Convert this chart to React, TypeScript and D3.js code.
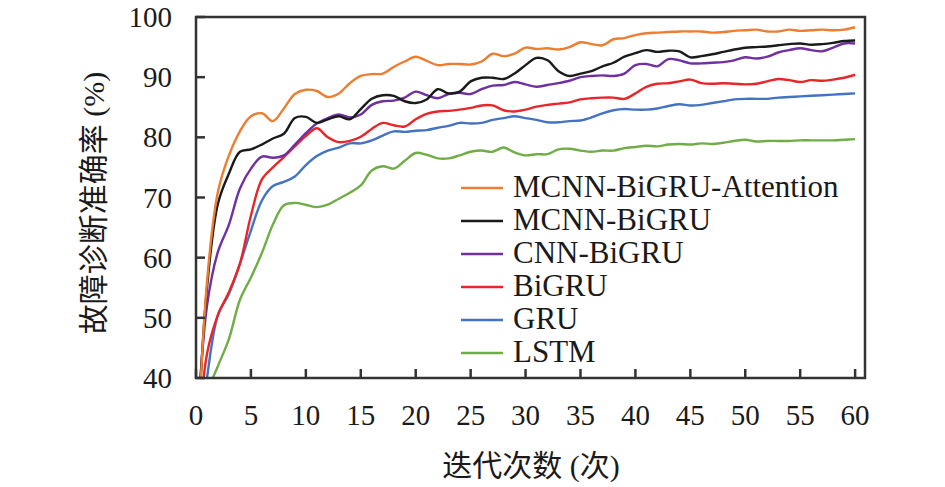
import { useEffect, useRef } from "react"
import * as d3 from "d3"

// epochs 0..60
const epochs = d3.range(0, 61)

const mcnnBigruAtt = [
  22, 56, 71, 77, 81, 83.5, 84, 82.7, 84.8, 87.2, 87.9, 87.7, 86.7, 87.3, 89, 90.2, 90.5, 90.6, 91.7, 92.6,
  93.4, 92.7, 92, 92.2, 92.2, 92.1, 92.6, 93.9, 93.5, 93.9, 94.9, 94.7, 94.8, 94.6, 95, 95.8, 95.5, 95.3, 96.3, 96.5,
  97, 97.3, 97.4, 97.5, 97.6, 97.6, 97.6, 97.4, 97.5, 97.7, 97.8, 97.9, 97.6, 97.6, 97.9, 97.7, 97.8, 97.9, 97.8, 97.9,
  98.3,
]
const mcnnBigru = [
  25, 55, 69, 74, 77.6, 78, 78.8, 79.8, 80.6, 83.2, 83.4, 82.4, 83, 83.5, 83, 84.7, 86.4, 87, 86.9, 86,
  85.7, 86.3, 88, 87.3, 87.6, 89.3, 89.9, 89.9, 89.7, 90.6, 92, 93.2, 92.8, 91, 90.2, 90.6, 91, 91.8, 92.4, 93.4,
  94, 94.5, 94.2, 94.4, 94.3, 93.3, 93.5, 93.8, 94.2, 94.6, 94.9, 95, 95.1, 95.3, 95.5, 95.6, 95.4, 95.5, 95.7, 96,
  96.1,
]
const cnnBigru = [
  28, 52, 61, 65.5, 71.5, 74.8, 76.8, 76.6, 77, 78.8, 80.7, 82.3, 83.2, 83.8, 83.3, 83.8, 85.4, 86, 86.1, 86.6,
  87.6, 87, 86.5, 87.2, 87.4, 87.2, 88, 88.6, 88.7, 89.2, 88.8, 88.4, 88.7, 89, 89.4, 90, 90.2, 90.3, 90.2, 90.6,
  92, 92.2, 91.8, 93, 92.8, 92.3, 92.3, 92.4, 92.5, 92.8, 93.3, 93.1, 93.4, 94.1, 94.5, 94.8, 94.5, 94.3, 94.9, 95.6,
  95.6,
]
const bigru = [
  25, 44, 50.5, 54.3, 59, 67, 73, 75, 76.7, 78.5, 80.2, 81.5, 80, 79.2, 79.4, 80.1, 81.4, 82.4, 82, 81.8,
  83, 83.9, 84.3, 84.4, 84.6, 84.9, 85.3, 85.3, 84.5, 84.3, 84.6, 85.1, 85.4, 85.6, 85.8, 86.3, 86.5, 86.6, 86.6, 86.4,
  87.3, 88.4, 88.9, 89, 89.3, 89.6, 89, 88.9, 89, 88.9, 88.8, 88.9, 89.3, 89.7, 89.5, 89.2, 89.5, 89.4, 89.6, 89.9,
  90.4,
]
const gru = [
  24, 40, 50.5, 54, 59, 64.5, 69.5, 71.9, 72.6, 73.5, 75.4, 76.9, 77.8, 78.3, 79, 79, 79.5, 80.3, 81, 80.9,
  81.1, 81.2, 81.6, 81.9, 82.4, 82.3, 82.4, 82.9, 83.2, 83.5, 83.2, 82.9, 82.5, 82.5, 82.7, 82.8, 83.3, 84, 84.5, 84.7,
  84.6, 84.6, 84.8, 85.2, 85.5, 85.3, 85.4, 85.7, 86, 86.3, 86.4, 86.4, 86.4, 86.6, 86.7, 86.8, 86.9, 87, 87.1, 87.2,
  87.3,
]
const lstm = [
  30, 37.5, 42, 46.5, 53, 56.7, 60.8, 65.5, 68.7, 69.1, 68.8, 68.4, 68.8, 69.8, 70.8, 72, 74.5, 75.2, 74.8, 76.1,
  77.4, 77.1, 76.5, 76.5, 77, 77.6, 77.8, 77.6, 78.3, 77.5, 77, 77.2, 77.2, 78, 78.1, 77.8, 77.6, 77.8, 77.8, 78.2,
  78.4, 78.6, 78.5, 78.8, 78.9, 78.8, 79, 78.9, 79.1, 79.4, 79.6, 79.3, 79.4, 79.4, 79.4, 79.5, 79.5, 79.5, 79.5, 79.6,
  79.7,
]

const seriesNames = ["MCNN-BiGRU-Attention", "MCNN-BiGRU", "CNN-BiGRU", "BiGRU", "GRU", "LSTM"]
const seriesValues = [mcnnBigruAtt, mcnnBigru, cnnBigru, bigru, gru, lstm]
const seriesColors = ["#ED7D31", "#1a1a1a", "#7030A0", "#E8262A", "#4472C4", "#70AD47"]

const xTicks = d3.range(0, 61, 5)
const yTicks = [40, 50, 60, 70, 80, 90, 100]

const serif = "'Liberation Serif', 'Times New Roman', serif"
const cjk = "'Liberation Serif', 'Noto Sans CJK SC', serif"

export default function App() {
  const svgRef = useRef<SVGSVGElement>(null)

  useEffect(() => {
    if (!svgRef.current) return
    const svg = d3.select(svgRef.current)
    svg.selectAll("*").remove()

    const left = 196
    const right = 865
    const top = 17
    const bottom = 378

    const x = d3.scaleLinear().domain([0, 60.9]).range([left, right])
    const y = d3.scaleLinear().domain([40, 100]).range([bottom, top])

    svg
      .append("defs")
      .append("clipPath")
      .attr("id", "plot-clip")
      .append("rect")
      .attr("x", left)
      .attr("y", top)
      .attr("width", right - left)
      .attr("height", bottom - top)

    const line = d3
      .line<number>()
      .x((d, i) => x(epochs[i]))
      .y((d) => y(d))
      .curve(d3.curveCatmullRom.alpha(0.5))

    // lines (draw LSTM first so top series sit above)
    const g = svg.append("g").attr("clip-path", "url(#plot-clip)")
    seriesValues
      .map((vals, i) => ({ vals, i }))
      .reverse()
      .forEach(({ vals, i }) => {
        g.append("path")
          .attr("d", line(vals))
          .attr("fill", "none")
          .attr("stroke", seriesColors[i])
          .attr("stroke-width", 2.4)
          .attr("stroke-linejoin", "round")
      })

    // frame
    svg
      .append("rect")
      .attr("x", left)
      .attr("y", top)
      .attr("width", right - left)
      .attr("height", bottom - top)
      .attr("fill", "none")
      .attr("stroke", "#333")
      .attr("stroke-width", 2.5)

    // x ticks (inward)
    svg
      .append("g")
      .selectAll("line")
      .data(xTicks)
      .enter()
      .append("line")
      .attr("x1", (d) => x(d))
      .attr("x2", (d) => x(d))
      .attr("y1", bottom)
      .attr("y2", bottom - 9)
      .attr("stroke", "#333")
      .attr("stroke-width", 2.5)

    svg
      .append("g")
      .selectAll("text")
      .data(xTicks)
      .enter()
      .append("text")
      .attr("x", (d) => x(d))
      .attr("y", 425)
      .attr("text-anchor", "middle")
      .style("font-family", serif)
      .style("font-size", "29px")
      .attr("fill", "#1a1a1a")
      .text((d) => d)

    // y ticks (inward)
    svg
      .append("g")
      .selectAll("line")
      .data(yTicks)
      .enter()
      .append("line")
      .attr("x1", left)
      .attr("x2", left + 9)
      .attr("y1", (d) => y(d))
      .attr("y2", (d) => y(d))
      .attr("stroke", "#333")
      .attr("stroke-width", 2.5)

    svg
      .append("g")
      .selectAll("text")
      .data(yTicks)
      .enter()
      .append("text")
      .attr("x", 172)
      .attr("y", (d) => y(d) + 10)
      .attr("text-anchor", "end")
      .style("font-family", serif)
      .style("font-size", "29px")
      .attr("fill", "#1a1a1a")
      .text((d) => d)

    // axis titles
    svg
      .append("text")
      .attr("x", 531)
      .attr("y", 476)
      .attr("text-anchor", "middle")
      .style("font-family", cjk)
      .style("font-size", "30px")
      .attr("fill", "#1a1a1a")
      .text("迭代次数 (次)")

    svg
      .append("text")
      .attr("transform", `translate(104, 203) rotate(-90)`)
      .attr("text-anchor", "middle")
      .style("font-family", cjk)
      .style("font-size", "30px")
      .attr("fill", "#1a1a1a")
      .text("故障诊断准确率 (%)")

    // legend
    const legend = svg
      .append("g")
      .selectAll("g")
      .data(seriesNames)
      .enter()
      .append("g")
      .attr("transform", (d, i) => `translate(0, ${188 + i * 33})`)

    legend
      .append("line")
      .attr("x1", 461)
      .attr("x2", 503)
      .attr("y1", 0)
      .attr("y2", 0)
      .attr("stroke", (d, i) => seriesColors[i])
      .attr("stroke-width", 2.4)

    legend
      .append("text")
      .attr("x", 513)
      .attr("y", 9)
      .style("font-family", serif)
      .style("font-size", "31px")
      .attr("fill", "#1a1a1a")
      .text((d) => d)
  }, [])

  return (
    <svg
      ref={svgRef}
      width={945}
      height={487}
      style={{ position: "absolute", left: 0, top: 0, background: "#fff" }}
    ></svg>
  )
}
